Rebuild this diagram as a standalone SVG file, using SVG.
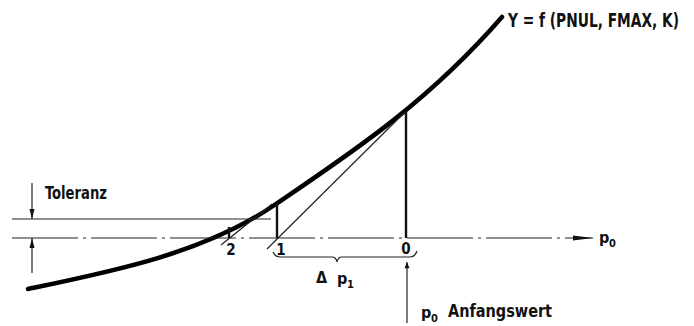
<svg xmlns="http://www.w3.org/2000/svg" width="694" height="326" viewBox="0 0 694 326">
<style>
text{font-family:"DejaVu Sans Condensed","Liberation Sans Narrow","DejaVu Sans",sans-serif;font-weight:bold;fill:#111}
.thin{stroke:#222;stroke-width:1.2;fill:none}
.mid{stroke:#111;stroke-width:2.4;fill:none}
.curve{stroke:#000;stroke-width:4.5;fill:none;stroke-linecap:round}
</style>
<defs>
<marker id="ah" viewBox="0 0 10 10" refX="10" refY="5" markerWidth="10" markerHeight="10" markerUnits="userSpaceOnUse" orient="auto">
<path d="M0,2.5 L10,5 L0,7.5 Z" fill="#111"/>
</marker>
<marker id="ahp" viewBox="0 0 20 8" refX="20" refY="4" markerWidth="20" markerHeight="8" markerUnits="userSpaceOnUse" orient="auto">
<path d="M0,1.5 L20,4 L0,6.5 Z" fill="#111"/>
</marker>
<marker id="ahu" viewBox="0 0 10 16" refX="10" refY="8" markerWidth="16" markerHeight="10" markerUnits="userSpaceOnUse" orient="auto">
<path d="M0,4 L10,8 L0,12 Z" fill="#111"/>
</marker>
</defs>
<g id="curve">
<path class="curve" d="M28,289 C109.7,272 203,253.6 273,206 C349,154.3 426,104.4 502,17"/>
<text transform="translate(508,27) scale(1,1.2)" font-size="16" textLength="171" lengthAdjust="spacingAndGlyphs">Y = f (PNUL, FMAX, K)</text>
</g>
<g id="connectors">
<line class="thin" x1="12" y1="238" x2="593" y2="238" stroke-dasharray="66 5 3 5" marker-end="url(#ahp)"/>
<line class="thin" x1="12" y1="219" x2="271" y2="219"/>
<line class="thin" x1="32" y1="183" x2="32" y2="219" marker-end="url(#ah)"/>
<line class="thin" x1="32" y1="273" x2="32" y2="238" marker-end="url(#ah)"/>
<line class="thin" x1="221" y1="245" x2="272" y2="204"/>
<line class="thin" x1="267" y1="249" x2="404" y2="113"/>
<line class="mid" x1="229" y1="227" x2="229" y2="238"/>
<line class="mid" x1="277" y1="203" x2="277" y2="238"/>
<line class="mid" x1="406" y1="111" x2="406" y2="238"/>
<path class="thin" d="M273,252 Q275,257 280,257 L332,257 Q336,257 337,262 Q338,257 342,257 L410,257 Q415,257 417,251"/>
<line class="thin" x1="407" y1="323" x2="407" y2="262" stroke-width="1.5" marker-end="url(#ahu)"/>
</g>
<g id="labels">
<text x="45" y="199" font-size="17" textLength="62" lengthAdjust="spacingAndGlyphs">Toleranz</text>
<text x="231" y="255" font-size="15" text-anchor="middle">2</text>
<text x="281" y="255" font-size="15" text-anchor="middle">1</text>
<text x="406" y="254" font-size="15" text-anchor="middle">0</text>
<text x="316" y="283" font-size="16">Δ</text>
<text x="337" y="284" font-size="16">p</text>
<text x="347" y="288" font-size="11">1</text>
<text x="599" y="243" font-size="16">p</text>
<text x="609" y="247" font-size="11">0</text>
<text x="421" y="318" font-size="16">p</text>
<text x="431" y="322" font-size="11">0</text>
<text x="448" y="317" font-size="17" textLength="104" lengthAdjust="spacingAndGlyphs">Anfangswert</text>
</g>
</svg>
